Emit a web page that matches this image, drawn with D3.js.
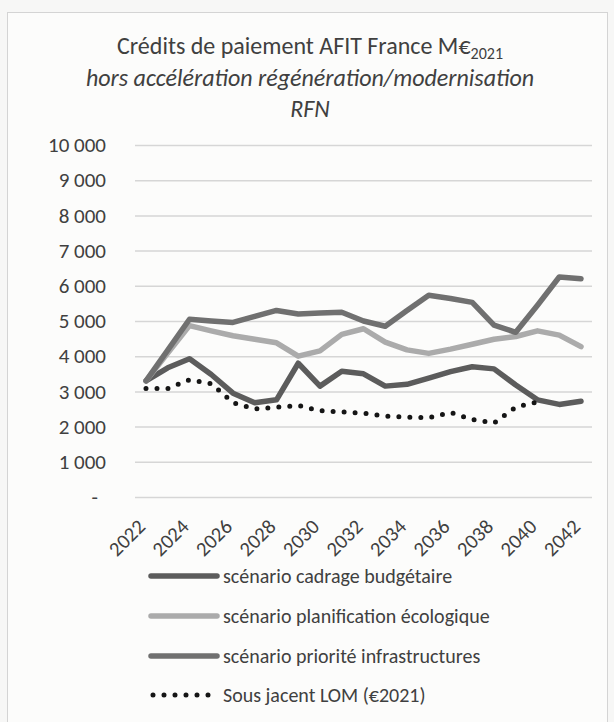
<!DOCTYPE html>
<html>
<head>
<meta charset="utf-8">
<script src="https://cdn.jsdelivr.net/npm/d3@7"></script>
<style>
  body { margin: 0; background: #f7f7f6; }
  svg { display: block; font-family: Carlito, Calibri, Lato, sans-serif; }
</style>
</head>
<body>
<svg id="chart" width="614" height="722"></svg>
<script>
const years = d3.range(2022, 2043);
const yearLabels = [2022, 2024, 2026, 2028, 2030, 2032, 2034, 2036, 2038, 2040, 2042];
const yTicks = [0, 1000, 2000, 3000, 4000, 5000, 6000, 7000, 8000, 9000, 10000];

// Crédits de paiement, M€2021
const cadrage = [3300, 3670, 3930, 3480, 2950, 2680, 2760, 3800, 3150, 3570, 3500, 3150, 3200, 3380, 3560, 3700, 3640, 3180, 2760, 2630, 2720];
const planification = [3300, 4090, 4870, 4720, 4580, 4480, 4380, 4000, 4150, 4620, 4780, 4400, 4180, 4080, 4200, 4340, 4480, 4560, 4720, 4600, 4270];
const priorite = [3300, 4170, 5050, 5000, 4960, 5130, 5300, 5200, 5230, 5250, 5000, 4850, 5300, 5730, 5640, 5530, 4880, 4680, 5450, 6250, 6200];
const lom = [3080, 3080, 3330, 3220, 2680, 2500, 2550, 2600, 2450, 2420, 2380, 2300, 2270, 2250, 2400, 2200, 2100, 2550, 2700, null, null];

const seriesNames = [
  "scénario cadrage budgétaire",
  "scénario planification écologique",
  "scénario priorité infrastructures",
  "Sous jacent LOM (€2021)",
];

const series = [
  { name: seriesNames[0], values: cadrage, color: "#5c5c5c", dotted: false },
  { name: seriesNames[1], values: planification, color: "#ababab", dotted: false },
  { name: seriesNames[2], values: priorite, color: "#707070", dotted: false },
  { name: seriesNames[3], values: lom, color: "#151515", dotted: true },
];

const svg = d3.select("#chart");
const plot = { left: 135, right: 592, top: 145, bottom: 497 };
const textColor = "#404040";

// cadre du graphique
svg.append("rect")
  .attr("x", 7.5).attr("y", 12.5)
  .attr("width", 600).attr("height", 740)
  .attr("fill", "#fcfcfb")
  .attr("stroke", "#d4d4d4");

// titre
const title = svg.append("g").attr("fill", textColor).attr("font-size", 24).attr("text-anchor", "middle");
const t1 = title.append("text").attr("x", 310).attr("y", 54);
t1.append("tspan").text("Crédits de paiement AFIT France M€");
t1.append("tspan").attr("font-size", 16).attr("dy", 5).text("2021");
title.append("text").attr("x", 310).attr("y", 86).attr("font-style", "italic")
  .text("hors accélération régénération/modernisation");
title.append("text").attr("x", 310).attr("y", 117).attr("font-style", "italic").text("RFN");

const x = d3.scalePoint().domain(years).range([146, 581]);
const y = d3.scaleLinear().domain([0, 10000]).range([plot.bottom, plot.top]);

const fr = d3.formatLocale({ decimal: ",", thousands: " ", grouping: [3], currency: ["", " €"] });
const fmt = fr.format(",");

// Y-Achse + grille
const yAxis = svg.append("g")
  .attr("transform", "translate(" + plot.left + ",0)")
  .call(d3.axisLeft(y)
    .tickValues(yTicks)
    .tickSize(-(plot.right - plot.left))
    .tickPadding(29)
    .tickFormat((d) => (d === 0 ? "-" : fmt(d))));
yAxis.select(".domain").remove();
yAxis.selectAll(".tick line").attr("stroke", "#d6d6d6").attr("stroke-width", 1.5);
yAxis.selectAll(".tick text")
  .attr("fill", textColor)
  .attr("font-size", 21)
  .attr("font-family", "Carlito, Calibri, Lato, sans-serif")
  .attr("dx", (d) => (d === 0 ? -8 : 0));

// X-Achse
const xAxis = svg.append("g")
  .attr("transform", "translate(0," + plot.bottom + ")")
  .call(d3.axisBottom(x).tickValues(yearLabels).tickSize(0));
xAxis.select(".domain").remove();
xAxis.selectAll(".tick text")
  .attr("fill", textColor)
  .attr("font-size", 20.5)
  .attr("font-family", "Carlito, Calibri, Lato, sans-serif")
  .attr("text-anchor", "end")
  .attr("x", 0).attr("y", 0).attr("dy", 0)
  .attr("transform", "translate(0,31) rotate(-45)");

// courbes
const line = d3.line()
  .defined((d) => d != null)
  .x((d, i) => x(years[i]))
  .y((d) => y(d));

series.forEach((s) => {
  const path = svg.append("path")
    .datum(s.values)
    .attr("fill", "none")
    .attr("stroke", s.color)
    .attr("stroke-linejoin", "round")
    .attr("stroke-linecap", "round")
    .attr("d", line);
  if (s.dotted) {
    path.attr("stroke-width", 5).attr("stroke-dasharray", "0 11");
  } else {
    path.attr("stroke-width", 5.5);
  }
});

// légende
const legend = svg.append("g").attr("transform", "translate(151,0)");
const rowY = [576, 616, 656, 695];
series.forEach((s, i) => {
  const row = legend.append("g").attr("transform", "translate(0," + rowY[i] + ")");
  row.append("line")
    .attr("x1", s.dotted ? 2 : 0).attr("x2", s.dotted ? 64 : 66)
    .attr("stroke", s.color)
    .attr("stroke-linecap", "round")
    .attr("stroke-width", s.dotted ? 5 : 5.5)
    .attr("stroke-dasharray", s.dotted ? "0 11" : null);
  row.append("text")
    .attr("x", 72).attr("dy", "0.35em")
    .attr("font-size", 20)
    .attr("fill", textColor)
    .text(s.name);
});
</script>
</body>
</html>
